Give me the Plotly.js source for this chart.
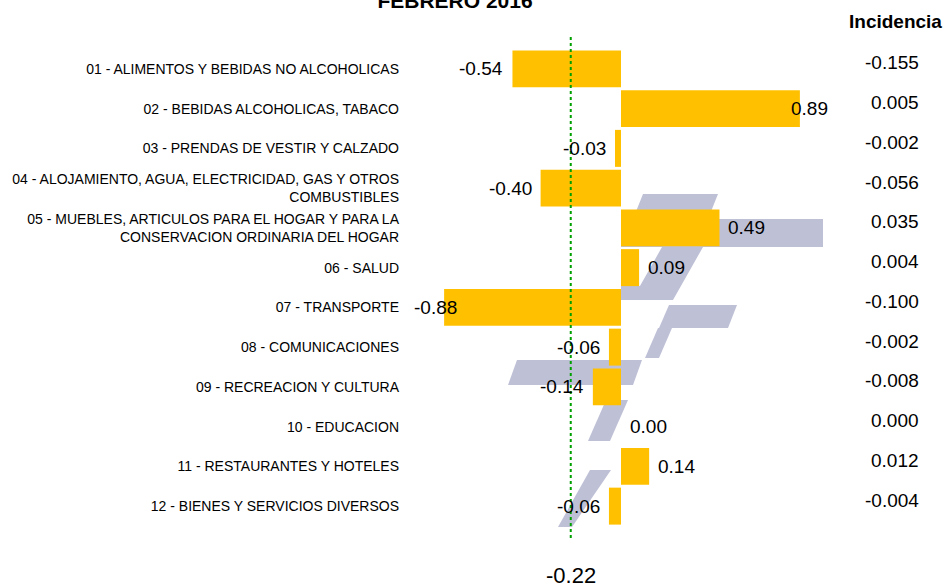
<!DOCTYPE html>
<html>
<head>
<meta charset="utf-8">
<script src="https://cdn.plot.ly/plotly-3.0.1.min.js"></script>
<style>html,body{margin:0;padding:0;background:#fff;}#chart{width:945px;height:586px;}</style>
</head>
<body>
<div id="chart"></div>
<script>
// ---- data ----
const categories = [
  "01 - ALIMENTOS Y BEBIDAS NO ALCOHOLICAS",
  "02 - BEBIDAS ALCOHOLICAS, TABACO",
  "03 - PRENDAS DE VESTIR Y CALZADO",
  "04 - ALOJAMIENTO, AGUA, ELECTRICIDAD, GAS Y OTROS COMBUSTIBLES",
  "05 - MUEBLES, ARTICULOS PARA EL HOGAR Y PARA LA CONSERVACION ORDINARIA DEL HOGAR",
  "06 - SALUD",
  "07 - TRANSPORTE",
  "08 - COMUNICACIONES",
  "09 - RECREACION Y CULTURA",
  "10 - EDUCACION",
  "11 - RESTAURANTES Y HOTELES",
  "12 - BIENES Y SERVICIOS DIVERSOS"
];
const tickLabels = [
  "01 - ALIMENTOS Y BEBIDAS NO ALCOHOLICAS",
  "02 - BEBIDAS ALCOHOLICAS, TABACO",
  "03 - PRENDAS DE VESTIR Y CALZADO",
  "04 - ALOJAMIENTO, AGUA, ELECTRICIDAD, GAS Y OTROS<br>COMBUSTIBLES",
  "05 - MUEBLES, ARTICULOS PARA EL HOGAR Y PARA LA<br>CONSERVACION ORDINARIA DEL HOGAR",
  "06 - SALUD",
  "07 - TRANSPORTE",
  "08 - COMUNICACIONES",
  "09 - RECREACION Y CULTURA",
  "10 - EDUCACION",
  "11 - RESTAURANTES Y HOTELES",
  "12 - BIENES Y SERVICIOS DIVERSOS"
];
const variation = [-0.54, 0.89, -0.03, -0.40, 0.49, 0.09, -0.88, -0.06, -0.14, 0.00, 0.14, -0.06];
const incidencia = ["-0.155", "0.005", "-0.002", "-0.056", "0.035", "0.004", "-0.100", "-0.002", "-0.008", "0.000", "0.012", "-0.004"];
const generalValue = -0.22;
const titleText = "FEBRERO 2016";
const incidenciaHeader = "Incidencia";

// ---- layout helpers ----
const W = 945, H = 586;
const M = {l: 420, r: 123, t: 49, b: 60};
const PW = W - M.l - M.r, PH = H - M.t - M.b;
const px = x => (x - M.l) / PW;
const py = y => (H - M.b - y) / PH;
const font = "Liberation Sans, Arial, sans-serif";
const xRange = [-1.0, 1.0];
const dataToPaper = v => (v - xRange[0]) / (xRange[1] - xRange[0]);
const xLimit = 1.04;

const barTrace = {
  type: "bar",
  orientation: "h",
  y: categories,
  x: variation,
  marker: {color: "#FFC000", line: {width: 0}},
  hoverinfo: "x+y",
  showlegend: false
};

const annotations = [];
variation.forEach((v, i) => {
  const txt = v.toFixed(2);
  let a = {xref: "paper", yref: "y", y: categories[i], text: txt, showarrow: false,
           font: {family: font, size: 19, color: "#000"}};
  if (Math.abs(v) > 0.8) {
    a.x = dataToPaper(v > 0 ? xLimit : -xLimit);
    a.xanchor = v > 0 ? "right" : "left";
  } else if (v < 0) {
    a.x = dataToPaper(v); a.xanchor = "right"; a.xshift = -7;
  } else {
    a.x = dataToPaper(v); a.xanchor = "left"; a.xshift = 7;
  }
  annotations.push(a);
  annotations.push({xref: "paper", yref: "y", x: px(921), y: categories[i], yshift: 6,
    xanchor: "right", text: incidencia[i], showarrow: false,
    font: {family: font, size: 19, color: "#000"}});
});
annotations.push({xref: "paper", yref: "paper", x: px(944), y: py(21), xanchor: "right", yanchor: "middle",
  text: "<b>" + incidenciaHeader + "</b>", showarrow: false, font: {family: font, size: 19, color: "#000"}});
annotations.push({xref: "x2", yref: "paper", x: generalValue, y: py(575), xanchor: "center", yanchor: "middle",
  text: generalValue.toFixed(2), showarrow: false, font: {family: font, size: 22, color: "#000"}});

// watermark logo (decorative), pixel polygons
const logoPolys = [
  [[643,194],[718,194],[708,219],[633,219]],
  [[621,219],[823,219],[823,247],[621,247]],
  [[662,247],[703,247],[673,300],[621,300],[621,286],[640,286]],
  [[669,305],[737,305],[728,328],[659,328]],
  [[658,328],[672,328],[659,358],[645,358]],
  [[517,360],[642,360],[633,385],[508,385]],
  [[606,400],[628,400],[610,441],[588,441]],
  [[590,470],[611,470],[572,527],[558,527]]
];
const shapes = logoPolys.map(p => ({
  type: "path", xref: "paper", yref: "paper", layer: "below",
  path: "M" + p.map(q => px(q[0]) + "," + py(q[1])).join("L") + "Z",
  fillcolor: "rgb(190,192,214)", line: {width: 0}
}));
shapes.push({type: "line", xref: "x2", yref: "paper", x0: generalValue, x1: generalValue,
  y0: py(538), y1: py(37), line: {color: "#00a000", width: 2, dash: "dot"}});

const layout = {
  width: W, height: H,
  margin: M,
  paper_bgcolor: "#fff", plot_bgcolor: "rgba(0,0,0,0)",
  title: {text: "<b>" + titleText + "</b>", x: 455 / W, xanchor: "center", y: 0.999, yanchor: "middle",
          yref: "container", font: {family: font, size: 21, color: "#000"}},
  bargap: 0.07,
  xaxis: {range: xRange, visible: false, fixedrange: true},
  xaxis2: {range: [-0.97, 1.03], overlaying: "x", visible: false, fixedrange: true},
  yaxis: {type: "category", categoryorder: "array", categoryarray: categories,
          range: [categories.length - 0.5, -0.5], tickvals: categories, ticktext: tickLabels,
          ticks: "", showgrid: false, zeroline: false, showline: false, ticklabelstandoff: 20,
          tickfont: {family: font, size: 14, color: "#000"}, fixedrange: true},
  annotations: annotations,
  shapes: shapes,
  showlegend: false
};

Plotly.newPlot("chart", [barTrace], layout, {displayModeBar: false, staticPlot: true});
</script>
</body>
</html>
